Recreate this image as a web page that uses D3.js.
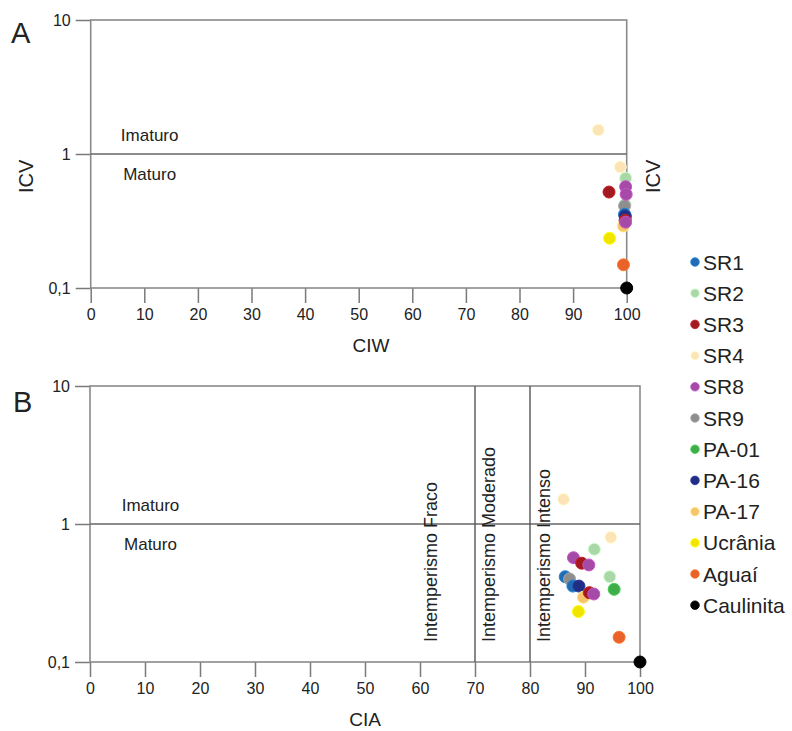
<!DOCTYPE html>
<html>
<head>
<meta charset="utf-8">
<script src="https://cdn.jsdelivr.net/npm/d3@7"></script>
<style>
  body { margin: 0; background: #fff; }
  text { font-family: "Liberation Sans", Arial, sans-serif; fill: #222; }
</style>
</head>
<body>
<script>
// legend / series
var seriesNames = ["SR1", "SR2", "SR3", "SR4", "SR8", "SR9", "PA-01", "PA-16", "PA-17", "Ucrânia", "Aguaí", "Caulinita"];
var seriesColors = ["#1f6db4", "#a9d7a7", "#a3191f", "#fde4b6", "#a54aa6", "#8e8e8e", "#3fae49", "#202e85", "#f7c46e", "#f1e500", "#e8622a", "#000000"];

// panel A: CIW vs ICV (drawing order)
var aSeries = ["SR4", "SR4", "SR2", "SR3", "SR2", "SR9", "SR1", "PA-01", "PA-16", "PA-17", "SR3", "SR8", "SR8", "SR8", "Ucrânia", "Aguaí", "Caulinita"];
var aCIW    = [94.7,  98.8,  99.8,  96.7,  99.7,  99.6,  99.6,  99.8,    99.7,    99.4,    99.7,  99.8,  99.9,  99.8,  96.8,      99.4,    100];
var aICV    = [1.51,  0.80,  0.66,  0.52,  0.42,  0.41,  0.355, 0.34,    0.345,   0.29,    0.32,  0.57,  0.50,  0.31,  0.235,     0.149,   0.1];

// panel B: CIA vs ICV
var bSeries = ["SR4", "SR4", "SR2", "SR8", "SR3", "SR8", "SR2", "PA-01", "SR1", "SR9", "SR1", "PA-16", "PA-17", "SR3", "SR8", "Ucrânia", "Aguaí", "Caulinita"];
var bCIA    = [86.1,  94.7,  91.7,  87.9,  89.4,  90.7,  94.5,  95.3,    86.4,  87.2,  87.8,  88.9,    89.7,    90.8,  91.6,  88.8,      96.2,    100];
var bICV    = [1.51,  0.80,  0.656, 0.57,  0.52,  0.505, 0.415, 0.336,   0.415, 0.40,  0.355, 0.355,   0.294,   0.318, 0.311, 0.232,     0.151,   0.1];

var xTicks = [0, 10, 20, 30, 40, 50, 60, 70, 80, 90, 100];
var yTicks = [0.1, 1, 10];
var yTickLabels = ["0,1", "1", "10"];
var weatheringLimits = [70, 80];
var weatheringLabels = ["Intemperismo Fraco", "Intemperismo Moderado", "Intemperismo Intenso"];

var colorOf = d3.scaleOrdinal().domain(seriesNames).range(seriesColors);

var svg = d3.select("body").append("svg")
    .attr("width", 792)
    .attr("height", 731);

function drawPanel(opt) {
    var x = d3.scaleLinear().domain([0, 100]).range([opt.left, opt.right]);
    var y = d3.scaleLog().domain([0.1, 10]).range([opt.bottom, opt.top]);
    var g = svg.append("g");

    // bottom axis
    var xAxis = g.append("g")
        .attr("transform", "translate(0," + opt.bottom + ")")
        .call(d3.axisBottom(x).tickValues(xTicks).tickSize(15).tickPadding(6));
    xAxis.select(".domain").remove();
    xAxis.selectAll("line").attr("stroke", "#7a7a7a").attr("stroke-width", 1.5);
    xAxis.selectAll("text").attr("font-size", "16px").attr("fill", "#222")
        .attr("font-family", "Liberation Sans, Arial, sans-serif");

    // left axis
    var yAxis = g.append("g")
        .attr("transform", "translate(" + opt.left + ",0)")
        .call(d3.axisLeft(y).tickValues(yTicks).tickSize(15).tickPadding(5)
            .tickFormat(function(d, i) { return yTickLabels[i]; }));
    yAxis.select(".domain").remove();
    yAxis.selectAll("line").attr("stroke", "#7a7a7a").attr("stroke-width", 1.5);
    yAxis.selectAll("text").attr("font-size", "16px").attr("fill", "#222")
        .attr("font-family", "Liberation Sans, Arial, sans-serif");

    // frame
    g.append("rect")
        .attr("x", opt.left).attr("y", opt.top)
        .attr("width", opt.right - opt.left).attr("height", opt.bottom - opt.top)
        .attr("fill", "none").attr("stroke", "#8a8a8a").attr("stroke-width", 1.6);

    // ICV = 1 line
    g.append("line")
        .attr("x1", opt.left).attr("x2", opt.right)
        .attr("y1", y(1)).attr("y2", y(1))
        .attr("stroke", "#666").attr("stroke-width", 1.4);

    g.append("text").attr("x", x(11)).attr("y", y(1) - 13)
        .attr("text-anchor", "middle").attr("font-size", "17px").text("Imaturo");
    g.append("text").attr("x", x(11)).attr("y", y(1) + 26)
        .attr("text-anchor", "middle").attr("font-size", "17px").text("Maturo");

    if (opt.weathering) {
        g.selectAll(".wline").data(weatheringLimits).enter().append("line")
            .attr("x1", function(d) { return x(d); }).attr("x2", function(d) { return x(d); })
            .attr("y1", opt.top).attr("y2", opt.bottom)
            .attr("stroke", "#555").attr("stroke-width", 1.4);
        var labelX = [x(60) + 17, x(70) + 20, x(80) + 20];
        g.selectAll(".wlabel").data(weatheringLabels).enter().append("text")
            .attr("transform", function(d, i) { return "translate(" + labelX[i] + "," + (opt.bottom - 20) + ") rotate(-90)"; })
            .attr("font-size", "18px")
            .text(function(d) { return d; });
    }

    // points
    g.selectAll("circle.pt")
        .data(opt.series.map(function(s, i) { return {s: s, x: opt.xs[i], y: opt.ys[i]}; }))
        .enter().append("circle")
        .attr("class", "pt")
        .attr("cx", function(d) { return x(d.x); })
        .attr("cy", function(d) { return y(d.y); })
        .attr("r", 6)
        .attr("fill", function(d) { return colorOf(d.s); })
        .attr("stroke", function(d) { return d.s === "Caulinita" ? "#000" : d3.color(colorOf(d.s)).brighter(0.5); })
        .attr("stroke-width", 1);

    // x label
    g.append("text").attr("x", opt.xLabelX).attr("y", opt.xLabelY)
        .attr("text-anchor", "middle").attr("font-size", "19px").text(opt.xLabel);

    // panel letter
    g.append("text").attr("x", opt.letterX).attr("y", opt.letterY)
        .attr("font-size", "29px").attr("fill", "#111").text(opt.letter);

    return {x: x, y: y};
}

var pa = drawPanel({left: 90.7, right: 626.7, top: 20, bottom: 288,
    series: aSeries, xs: aCIW, ys: aICV, weathering: false,
    xLabel: "CIW", xLabelX: 371, xLabelY: 352, letter: "A", letterX: 11, letterY: 43});

var pb = drawPanel({left: 90, right: 640, top: 386, bottom: 662,
    series: bSeries, xs: bCIA, ys: bICV, weathering: true,
    xLabel: "CIA", xLabelX: 365, xLabelY: 726, letter: "B", letterX: 13, letterY: 412});

// ICV labels (panel A only)
svg.append("text").attr("transform", "translate(33," + pa.y(0.68) + ") rotate(-90)")
    .attr("text-anchor", "middle").attr("font-size", "20px").text("ICV");
svg.append("text").attr("transform", "translate(660," + pa.y(0.68) + ") rotate(-90)")
    .attr("text-anchor", "middle").attr("font-size", "20px").text("ICV");

// legend
var legend = svg.append("g").selectAll("g")
    .data(seriesNames).enter().append("g")
    .attr("transform", function(d, i) { return "translate(695," + (262 + i * 31.2) + ")"; });
legend.append("circle").attr("r", 4.3)
    .attr("fill", function(d) { return colorOf(d); })
    .attr("stroke", function(d) { return d === "Caulinita" ? "#000" : d3.color(colorOf(d)).brighter(0.5); })
    .attr("stroke-width", 0.8);
legend.append("text").attr("x", 8).attr("dy", "0.36em")
    .attr("font-size", "21px").text(function(d) { return d; });
</script>
</body>
</html>
